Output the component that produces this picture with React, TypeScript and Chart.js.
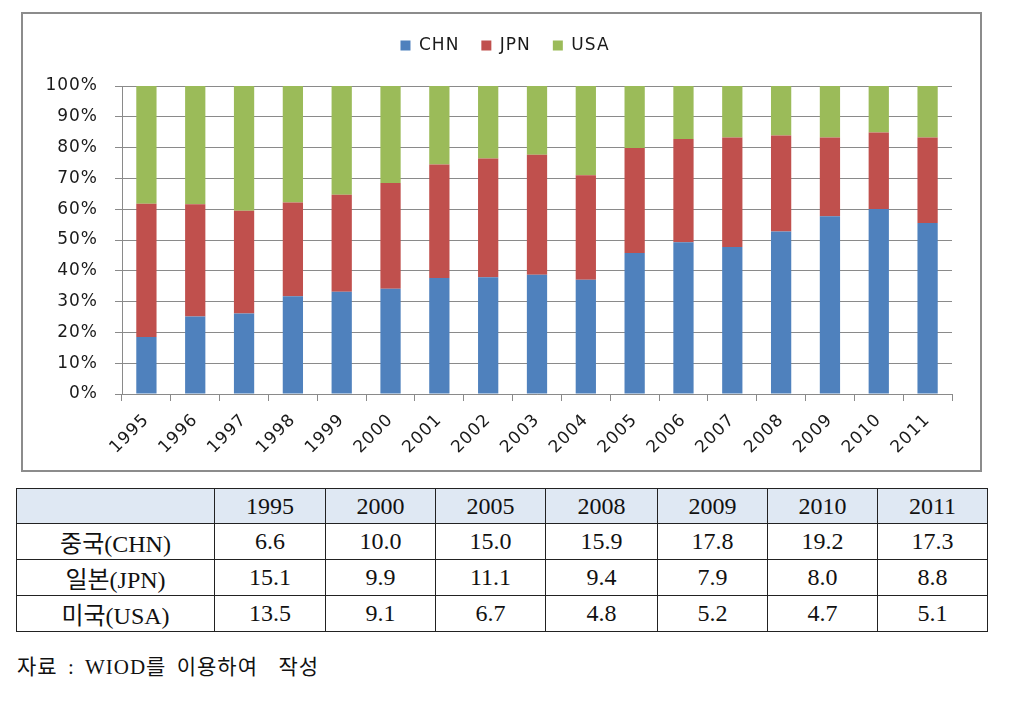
import React, { useEffect, useRef } from "react";
import { Chart, registerables } from "chart.js";

Chart.register(...registerables);

const years = ["1995", "1996", "1997", "1998", "1999", "2000", "2001", "2002", "2003", "2004", "2005", "2006", "2007", "2008", "2009", "2010", "2011"];
const chnShare = [18.5, 25.2, 26.1, 31.7, 33.2, 34.2, 37.7, 37.9, 38.7, 37.1, 45.8, 49.3, 47.7, 52.8, 57.7, 60.1, 55.5];
const jpnShare = [43.3, 36.4, 33.4, 30.5, 31.5, 34.3, 36.8, 38.6, 39.0, 33.9, 34.1, 33.5, 35.6, 31.1, 25.6, 24.8, 27.8];
const usaShare = [38.2, 38.4, 40.5, 37.8, 35.3, 31.5, 25.5, 23.5, 22.3, 29.0, 20.1, 17.2, 16.7, 16.1, 16.7, 15.1, 16.7];
const seriesNames = ["CHN", "JPN", "USA"];

const tableYears = ["1995", "2000", "2005", "2008", "2009", "2010", "2011"];
const rowLabels = ["중국(CHN)", "일본(JPN)", "미국(USA)"];
const chnTable = ["6.6", "10.0", "15.0", "15.9", "17.8", "19.2", "17.3"];
const jpnTable = ["15.1", "9.9", "11.1", "9.4", "7.9", "8.0", "8.8"];
const usaTable = ["13.5", "9.1", "6.7", "4.8", "5.2", "4.7", "5.1"];
const sourceNote = "자료 : WIOD를 이용하여  작성";

const COLORS = ["#4f81bd", "#c0504d", "#9bbb59"];
const GRID = "#8a8a8a";
const FONT = "'DejaVu Sans', Verdana, sans-serif";
const SPACING = "1px";

const layoutPlugin = {
  id: "layoutTweaks",
  beforeLayout(chart: any) {
    (chart.ctx as any).letterSpacing = SPACING;
    const lg = chart.legend;
    if (lg && !lg._patched) {
      const f = lg.fit.bind(lg);
      lg.fit = function () {
        f();
        this.height = 71;
      };
      lg._patched = true;
    }
  },
  beforeDraw(chart: any) {
    (chart.ctx as any).letterSpacing = SPACING;
    const lg = chart.legend;
    if (lg) {
      const w = lg.right - lg.left;
      lg.left = 482 - w / 2;
      lg.right = 482 + w / 2;
    }
  },
};

function StackChart() {
  const ref = useRef<HTMLCanvasElement | null>(null);
  useEffect(() => {
    if (!ref.current) return;
    const chart = new Chart(ref.current, {
      type: "bar",
      data: {
        labels: years,
        datasets: [chnShare, jpnShare, usaShare].map((d, i) => ({
          label: seriesNames[i],
          data: d,
          backgroundColor: COLORS[i],
          borderWidth: 0,
          barPercentage: 0.415,
          categoryPercentage: 1,
        })),
      },
      options: {
        animation: false,
        responsive: false,
        maintainAspectRatio: false,
        layout: { padding: { top: 1, right: 28, left: 0, bottom: 0 } },
        plugins: {
          legend: {
            position: "top",
            labels: {
              boxWidth: 10,
              boxHeight: 10,
              padding: 22,
              color: "#1a1a1a",
              font: { family: FONT, size: 17 },
            },
          },
          tooltip: { enabled: false },
        },
        scales: {
          x: {
            stacked: true,
            grid: {
              display: true,
              drawOnChartArea: false,
              drawTicks: true,
              tickLength: 7,
              color: GRID,
              offset: true,
            },
            border: { display: true, color: GRID, width: 1 },
            ticks: {
              maxRotation: 45,
              minRotation: 45,
              padding: 9,
              color: "#1a1a1a",
              font: { family: FONT, size: 17 },
              autoSkip: false,
            },
            afterFit(scale: any) {
              scale.height = 76;
            },
          },
          y: {
            stacked: true,
            min: 0,
            max: 100,
            grid: {
              color: GRID,
              tickLength: 7,
              drawTicks: true,
            },
            border: { display: true, color: GRID, width: 1 },
            ticks: {
              stepSize: 10,
              padding: 17,
              color: "#1a1a1a",
              font: { family: FONT, size: 17 },
              callback: (v: any) => v + "%",
            },
            afterFit(scale: any) {
              scale.width = 99;
            },
          },
        },
      },
      plugins: [layoutPlugin],
    } as any);
    return () => chart.destroy();
  }, []);
  return <canvas ref={ref} width={957} height={456} style={{ display: "block", width: 957, height: 456 }} />;
}

const cellBase: React.CSSProperties = {
  border: "1px solid #222",
  textAlign: "center",
  padding: 0,
  color: "#111",
};

export default function App() {
  const colWidths = [198, 111, 110, 110, 112, 110, 110, 110];
  const rows = [chnTable, jpnTable, usaTable];
  return (
    <div style={{ position: "relative", width: 995, height: 690 }}>
      <div
        style={{
          position: "absolute",
          left: 13,
          top: 4,
          width: 957,
          height: 456,
          border: "2px solid #8c8c8c",
          background: "#fff",
        }}
      >
        <StackChart />
      </div>
      <table
        style={{
          position: "absolute",
          left: 8,
          top: 480,
          width: 971,
          borderCollapse: "collapse",
          tableLayout: "fixed",
          fontFamily: "'Liberation Serif', 'Noto Sans CJK KR', serif",
          fontSize: 24,
        }}
      >
        <colgroup>
          {colWidths.map((w, i) => (
            <col key={i} style={{ width: w }} />
          ))}
        </colgroup>
        <tbody>
          <tr style={{ height: 35, background: "#dfe8f3" }}>
            <td style={cellBase}></td>
            {tableYears.map((y) => (
              <td key={y} style={cellBase}>
                {y}
              </td>
            ))}
          </tr>
          {rows.map((r, ri) => (
            <tr key={ri} style={{ height: 34 }}>
              <td style={cellBase}>{rowLabels[ri]}</td>
              {r.map((v, ci) => (
                <td key={ci} style={cellBase}>
                  {v}
                </td>
              ))}
            </tr>
          ))}
        </tbody>
      </table>
      <div
        style={{
          position: "absolute",
          left: 9,
          top: 642,
          whiteSpace: "pre",
          fontFamily: "'Liberation Serif', 'Noto Sans CJK KR', serif",
          fontSize: 21,
          letterSpacing: 1,
          wordSpacing: 4,
          color: "#111",
        }}
      >
        {sourceNote}
      </div>
    </div>
  );
}
